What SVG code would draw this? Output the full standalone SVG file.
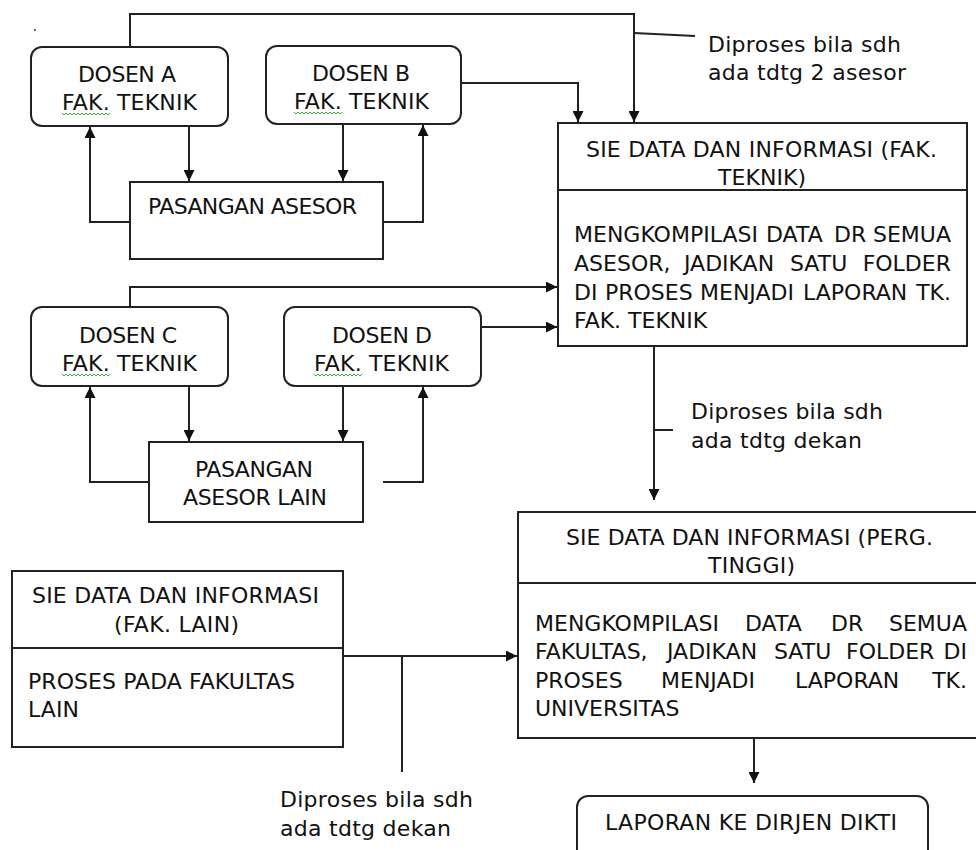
<svg xmlns="http://www.w3.org/2000/svg" width="976" height="850" viewBox="0 0 976 850">
<defs>
<style>
.t{font-family:"DejaVu Sans","Liberation Sans",sans-serif;font-size:22px;fill:#111}
.box{fill:#fff;stroke:#222;stroke-width:2}
.ln{fill:none;stroke:#222;stroke-width:2}
.sq{fill:none;stroke:#3a3;stroke-width:1}
</style>
<marker id="ah" markerUnits="userSpaceOnUse" markerWidth="11" markerHeight="11" refX="11" refY="5.5" orient="auto">
<path d="M0,0 L11,5.5 L0,11 z" fill="#111"/>
</marker>
</defs>
<rect x="0" y="0" width="976" height="850" fill="#fff"/>
<circle cx="35" cy="30" r="1" fill="#333"/>

<g id="connectors">
<polyline class="ln" points="130,47 130,14 634,14 634,122" marker-end="url(#ah)"/>
<polyline class="ln" points="461,83 578,83 578,122" marker-end="url(#ah)"/>
<line class="ln" x1="189" y1="126" x2="189" y2="181" marker-end="url(#ah)"/>
<polyline class="ln" points="130,222 90,222 90,127" marker-end="url(#ah)"/>
<line class="ln" x1="343" y1="124" x2="343" y2="181" marker-end="url(#ah)"/>
<polyline class="ln" points="383,222 423,222 423,125" marker-end="url(#ah)"/>
<polyline class="ln" points="130,307 130,287 557,287" marker-end="url(#ah)"/>
<line class="ln" x1="481" y1="327" x2="557" y2="327" marker-end="url(#ah)"/>
<line class="ln" x1="189" y1="386" x2="189" y2="441" marker-end="url(#ah)"/>
<polyline class="ln" points="149,482 90,482 90,387" marker-end="url(#ah)"/>
<line class="ln" x1="343" y1="386" x2="343" y2="441" marker-end="url(#ah)"/>
<polyline class="ln" points="383,482 423,482 423,387" marker-end="url(#ah)"/>
<line class="ln" x1="654" y1="346" x2="654" y2="500" marker-end="url(#ah)"/>
<line class="ln" x1="654" y1="430" x2="673" y2="430"/>
<line class="ln" x1="634" y1="33" x2="695" y2="36" stroke-width="1.5"/>
<line class="ln" x1="343" y1="656" x2="517" y2="656" marker-end="url(#ah)"/>
<line class="ln" x1="402" y1="656" x2="402" y2="772"/>
<line class="ln" x1="754" y1="738" x2="754" y2="783" marker-end="url(#ah)"/>
</g>

<g id="dosen-a">
<rect class="box" x="31" y="47" width="197" height="79" rx="11"/>
<text class="t" x="78" y="82" textLength="98">DOSEN A</text>
<text class="t" x="62" y="110" textLength="135">FAK. TEKNIK</text>
<path class="sq" d="M62,113 l2,2 l2,-2 l2,2 l2,-2 l2,2 l2,-2 l2,2 l2,-2 l2,2 l2,-2 l2,2 l2,-2 l2,2 l2,-2 l2,2 l2,-2 l2,2 l2,-2 l2,2 l2,-2 l2,2 l2,-2 l2,2 l2,-2"/>
</g>

<g id="dosen-b">
<rect class="box" x="266" y="46" width="195" height="78" rx="11"/>
<text class="t" x="312" y="81" textLength="98">DOSEN B</text>
<text class="t" x="294" y="109" textLength="135">FAK. TEKNIK</text>
<path class="sq" d="M294,112 l2,2 l2,-2 l2,2 l2,-2 l2,2 l2,-2 l2,2 l2,-2 l2,2 l2,-2 l2,2 l2,-2 l2,2 l2,-2 l2,2 l2,-2 l2,2 l2,-2 l2,2 l2,-2 l2,2 l2,-2 l2,2 l2,-2"/>
</g>

<g id="pasangan-asesor">
<rect class="box" x="130" y="182" width="253" height="77"/>
<text class="t" x="148" y="214" textLength="209">PASANGAN ASESOR</text>
</g>

<g id="note-2-asesor">
<text class="t" x="708" y="52" textLength="193">Diproses bila sdh</text>
<text class="t" x="708" y="80" textLength="198">ada tdtg 2 asesor</text>
</g>

<g id="sie-fak-teknik">
<rect class="box" x="558" y="123" width="409" height="223"/>
<line class="ln" x1="558" y1="190" x2="967" y2="190"/>
<text class="t" x="586" y="157" textLength="351">SIE DATA DAN INFORMASI (FAK.</text>
<text class="t" x="718" y="185" textLength="88">TEKNIK)</text>
<text class="t" y="242"><tspan x="574">MENGKOMPILASI</tspan><tspan x="766">DATA</tspan><tspan x="834">DR</tspan><tspan x="951" text-anchor="end">SEMUA</tspan></text>
<text class="t" y="271"><tspan x="574">ASESOR,</tspan><tspan x="684">JADIKAN</tspan><tspan x="790">SATU</tspan><tspan x="951" text-anchor="end">FOLDER</tspan></text>
<text class="t" y="300"><tspan x="574">DI</tspan><tspan x="605">PROSES</tspan><tspan x="700">MENJADI</tspan><tspan x="803">LAPORAN</tspan><tspan x="951" text-anchor="end">TK.</tspan></text>
<text class="t" x="574" y="328">FAK. TEKNIK</text>
</g>

<g id="dosen-c">
<rect class="box" x="31" y="307" width="197" height="79" rx="11"/>
<text class="t" x="79" y="343" textLength="98">DOSEN C</text>
<text class="t" x="62" y="371" textLength="135">FAK. TEKNIK</text>
<path class="sq" d="M62,374 l2,2 l2,-2 l2,2 l2,-2 l2,2 l2,-2 l2,2 l2,-2 l2,2 l2,-2 l2,2 l2,-2 l2,2 l2,-2 l2,2 l2,-2 l2,2 l2,-2 l2,2 l2,-2 l2,2 l2,-2 l2,2 l2,-2"/>
</g>

<g id="dosen-d">
<rect class="box" x="284" y="307" width="197" height="79" rx="11"/>
<text class="t" x="332" y="343" textLength="100">DOSEN D</text>
<text class="t" x="314" y="371" textLength="135">FAK. TEKNIK</text>
<path class="sq" d="M314,374 l2,2 l2,-2 l2,2 l2,-2 l2,2 l2,-2 l2,2 l2,-2 l2,2 l2,-2 l2,2 l2,-2 l2,2 l2,-2 l2,2 l2,-2 l2,2 l2,-2 l2,2 l2,-2 l2,2 l2,-2 l2,2 l2,-2"/>
</g>

<g id="pasangan-asesor-lain">
<rect class="box" x="149" y="442" width="214" height="80"/>
<text class="t" x="195" y="477" textLength="118">PASANGAN</text>
<text class="t" x="183" y="505" textLength="144">ASESOR LAIN</text>
</g>

<g id="note-dekan-1">
<text class="t" x="691" y="419" textLength="192">Diproses bila sdh</text>
<text class="t" x="691" y="448" textLength="171">ada tdtg dekan</text>
</g>

<g id="sie-perg-tinggi">
<rect class="box" x="518" y="512" width="480" height="226"/>
<line class="ln" x1="518" y1="583" x2="998" y2="583"/>
<text class="t" x="566" y="545" textLength="367">SIE DATA DAN INFORMASI (PERG.</text>
<text class="t" x="708" y="573" textLength="87">TINGGI)</text>
<text class="t" y="631"><tspan x="535">MENGKOMPILASI</tspan><tspan x="745">DATA</tspan><tspan x="831">DR</tspan><tspan x="967" text-anchor="end">SEMUA</tspan></text>
<text class="t" y="659"><tspan x="535">FAKULTAS,</tspan><tspan x="667">JADIKAN</tspan><tspan x="774">SATU</tspan><tspan x="846">FOLDER</tspan><tspan x="967" text-anchor="end">DI</tspan></text>
<text class="t" y="688"><tspan x="535">PROSES</tspan><tspan x="661">MENJADI</tspan><tspan x="795">LAPORAN</tspan><tspan x="967" text-anchor="end">TK.</tspan></text>
<text class="t" x="535" y="716">UNIVERSITAS</text>
</g>

<g id="sie-fak-lain">
<rect class="box" x="12" y="571" width="331" height="176"/>
<line class="ln" x1="12" y1="648" x2="343" y2="648"/>
<text class="t" x="32" y="603" textLength="287">SIE DATA DAN INFORMASI</text>
<text class="t" x="114" y="632" textLength="125">(FAK. LAIN)</text>
<text class="t" x="28" y="689" textLength="267">PROSES PADA FAKULTAS</text>
<text class="t" x="28" y="717" textLength="51">LAIN</text>
</g>

<g id="note-dekan-2">
<text class="t" x="280" y="807" textLength="193">Diproses bila sdh</text>
<text class="t" x="280" y="836" textLength="171">ada tdtg dekan</text>
</g>

<g id="laporan-dikti">
<rect class="box" x="577" y="796" width="351" height="80" rx="11"/>
<text class="t" x="605" y="830" textLength="292">LAPORAN KE DIRJEN DIKTI</text>
</g>
</svg>
